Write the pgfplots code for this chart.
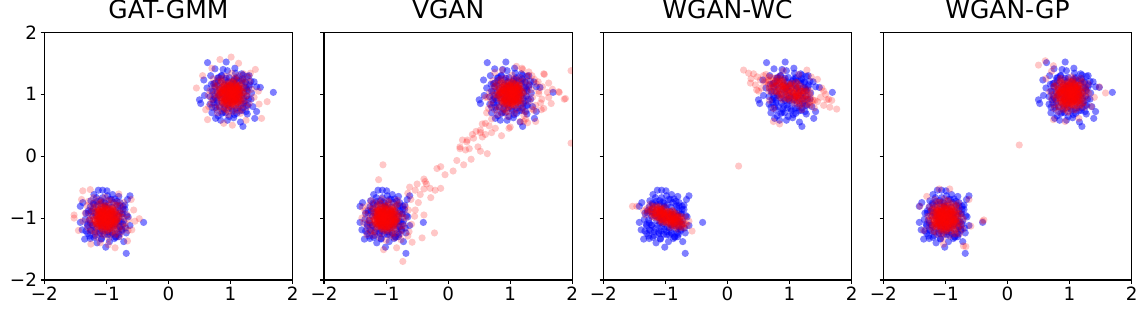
\documentclass[border=0pt]{standalone}
\usepackage{fontspec}
\setmainfont{DejaVu Sans}
\usepackage{pgfplots}
\pgfplotsset{compat=1.18}
\usepackage{pgfplotstable}

% real data (shared by all panels)
\pgfplotstableread{
x y
1.02 0.95
0.89 1.08
1.15 1.03
0.96 0.83
1.09 1.14
0.81 0.98
1.23 0.89
1.05 1.21
0.87 0.86
1.12 0.78
0.75 1.12
1.18 1.17
1.00 1.05
0.93 1.26
1.27 1.06
0.84 1.19
1.08 0.91
0.98 1.12
1.14 0.94
0.91 0.93
1.20 1.25
0.72 0.91
1.03 0.73
0.79 1.03
1.31 1.15
0.94 0.99
1.11 1.09
0.86 1.30
1.06 1.01
0.99 0.89
1.17 0.84
0.76 0.79
1.26 0.97
0.90 1.15
1.07 1.18
0.82 1.09
1.13 1.11
0.97 0.78
1.22 1.02
0.92 1.04
1.01 1.17
0.70 1.05
1.19 0.74
0.88 0.71
1.10 1.27
0.95 1.09
1.28 0.82
0.80 1.22
1.04 0.86
0.85 0.94
1.16 1.06
0.73 1.17
1.09 0.97
0.96 1.20
1.24 1.19
0.91 0.81
1.00 0.98
1.33 0.92
0.78 0.86
1.12 0.88
0.94 1.13
1.21 0.93
0.83 1.00
1.06 1.24
0.99 0.93
1.14 1.22
0.74 0.96
1.18 0.98
0.89 0.76
1.03 1.10
0.67 0.84
1.25 1.10
0.93 0.90
1.10 0.69
0.81 1.27
1.69 1.03
0.63 1.51
0.93 1.52
0.75 1.41
1.20 0.48
1.16 0.55
0.52 0.85
0.50 0.91
0.57 1.23
1.42 1.12
1.48 1.11
1.39 0.61
1.42 0.72
0.76 0.61
0.84 0.58
0.95 0.58
1.18 1.33
1.07 1.42
0.62 1.10
0.58 0.98
1.36 0.80
1.38 1.20
1.30 1.30
0.68 1.30
0.70 0.70
1.05 0.62
1.27 0.68
0.88 1.40
1.10 1.25
1.20 0.78
0.72 1.05
0.92 0.70
1.24 1.20
1.29 0.92
0.85 1.30
0.78 0.75
1.30 1.12
1.06 0.67
0.98 1.27
0.73 0.86
0.75 1.18
1.15 0.73
1.08 1.34
0.67 0.96
1.18 1.22
0.82 0.80
1.26 1.08
0.86 0.69
0.79 1.26
1.26 0.82
1.20 1.31
0.78 0.90
0.69 1.16
1.02 0.76
1.34 1.02
0.98 0.64
0.91 1.23
1.21 0.85
0.95 1.38
0.70 0.79
1.22 1.11
1.25 0.72
1.33 1.21
0.75 0.94
1.27 1.29
0.80 0.65
0.79 1.14
1.09 0.77
-1.05 -1.02
-0.92 -0.89
-0.97 -1.15
-1.17 -0.96
-0.86 -1.09
-1.02 -0.81
-1.11 -1.23
-0.79 -1.05
-1.14 -0.87
-1.22 -1.12
-0.88 -0.75
-0.83 -1.18
-0.95 -1.00
-0.74 -0.93
-0.94 -1.27
-0.81 -0.84
-1.09 -1.08
-0.88 -0.98
-1.06 -1.14
-1.07 -0.91
-0.75 -1.20
-1.09 -0.72
-1.27 -1.03
-0.97 -0.79
-0.85 -1.31
-1.01 -0.94
-0.91 -1.11
-0.70 -0.86
-0.99 -1.06
-1.11 -0.99
-1.16 -1.17
-1.21 -0.76
-1.03 -1.26
-0.85 -0.90
-0.82 -1.07
-0.91 -0.82
-0.89 -1.13
-1.22 -0.97
-0.98 -1.22
-0.96 -0.92
-0.83 -1.01
-0.95 -0.70
-1.26 -1.19
-1.29 -0.88
-0.73 -1.10
-0.91 -0.95
-1.18 -1.28
-0.78 -0.80
-1.14 -1.04
-1.06 -0.85
-0.94 -1.16
-0.83 -0.73
-1.03 -1.09
-0.80 -0.96
-0.81 -1.24
-1.19 -0.91
-1.02 -1.00
-1.08 -1.33
-1.14 -0.78
-1.12 -1.12
-0.87 -0.94
-1.07 -1.21
-1.00 -0.83
-0.76 -1.06
-1.07 -0.99
-0.78 -1.14
-1.04 -0.74
-1.02 -1.18
-1.24 -0.89
-0.90 -1.03
-1.16 -0.67
-0.90 -1.25
-1.10 -0.93
-1.31 -1.10
-0.73 -0.81
-0.40 -1.07
-0.68 -1.57
-1.01 -1.47
-0.62 -0.64
-0.66 -0.70
-1.42 -0.81
-1.39 -1.19
-1.42 -1.07
-1.35 -1.34
-1.26 -1.33
-1.13 -0.55
-1.06 -0.55
-0.99 -0.56
-0.80 -1.30
-0.87 -1.33
-0.68 -1.24
-1.33 -0.92
-1.30 -1.25
-0.65 -0.98
-0.62 -1.12
-1.20 -0.62
-0.90 -0.62
-0.72 -1.38
-1.15 -1.40
-1.38 -0.75
-1.10 -1.25
-1.20 -0.78
-0.72 -1.05
-0.92 -0.70
-1.24 -1.20
-1.29 -0.92
-0.85 -1.30
-0.78 -0.75
-1.30 -1.12
-1.06 -0.67
-0.98 -1.27
-0.73 -0.86
-0.75 -1.18
-1.15 -0.73
-1.08 -1.34
-0.67 -0.96
-1.18 -1.22
-0.82 -0.80
-1.26 -1.08
-0.86 -0.69
-0.79 -1.26
-1.26 -0.82
-1.20 -1.31
-0.78 -0.90
-0.69 -1.16
-1.02 -0.76
-1.34 -1.02
-0.98 -0.64
-0.91 -1.23
-1.21 -0.85
-0.95 -1.38
-0.70 -0.79
-1.22 -1.11
-1.25 -0.72
-1.33 -1.21
-0.75 -0.94
-1.27 -1.29
-0.80 -0.65
-0.79 -1.14
-1.09 -0.77
}\bluedata

% dense round cores of generated samples (GAT-GMM, VGAN, WGAN-GP)
\pgfplotstableread{
x y
1.03 1.01
0.95 1.07
1.10 0.96
0.92 0.91
1.06 1.12
0.87 1.02
1.15 1.08
1.01 0.86
0.90 1.14
1.12 0.87
0.98 0.97
1.08 1.04
0.84 0.95
1.04 1.18
0.93 1.00
1.18 0.98
0.97 1.10
1.09 0.91
0.88 0.85
1.00 1.06
1.14 1.15
0.82 1.09
1.05 0.93
0.94 0.83
1.11 1.01
0.99 1.15
1.07 0.82
0.86 1.11
1.02 0.99
0.91 1.05
1.16 0.90
0.96 0.89
1.10 1.10
0.81 0.99
1.06 0.97
0.89 1.18
1.13 1.05
0.98 0.80
1.20 1.03
0.94 1.03
1.04 1.08
0.85 0.90
1.09 1.16
0.92 1.12
1.17 0.94
1.00 0.92
0.88 1.07
1.07 0.87
0.96 1.02
1.12 1.12
0.83 1.04
1.03 0.84
0.93 0.94
1.14 0.99
0.99 1.11
1.05 1.02
0.90 0.88
1.08 1.09
0.87 0.97
1.02 1.20
1.01 0.98
1.06 1.04
0.97 0.92
0.93 1.06
1.10 0.95
1.02 1.10
1.06 0.88
0.89 0.99
1.11 1.08
0.90 0.90
0.98 1.02
1.03 0.94
0.96 1.13
1.14 0.97
1.00 1.06
0.98 0.86
1.08 1.02
0.93 0.93
0.88 1.10
1.05 1.00
1.12 0.89
1.07 1.14
0.94 0.96
0.86 1.05
1.01 0.91
1.12 1.01
0.86 0.94
1.09 1.11
0.99 0.98
1.04 1.07
0.92 0.87
0.91 1.03
1.08 0.92
0.99 1.15
0.98 0.95
1.14 1.09
1.04 0.90
0.84 1.02
1.02 0.84
1.02 1.05
1.01 1.03
1.07 0.95
0.96 1.10
0.91 0.92
1.12 1.06
1.02 0.87
1.08 1.15
0.86 1.01
1.14 0.90
0.87 1.12
0.97 0.98
1.04 1.08
0.95 0.84
1.18 1.04
1.00 0.93
0.98 1.18
1.10 0.97
0.91 1.09
0.85 0.88
1.06 1.00
1.15 1.14
1.09 0.82
0.93 1.05
0.83 0.94
1.01 1.11
1.15 0.99
0.82 1.07
1.11 0.86
0.99 1.02
1.05 0.91
0.90 1.16
0.89 0.96
0.99 0.81
0.97 1.06
1.18 0.89
1.05 1.13
0.80 0.98
1.03 1.20
1.03 0.94
1.08 1.04
0.90 0.85
1.16 1.09
1.12 0.92
0.94 1.17
0.92 1.00
1.07 0.88
0.87 1.07
1.02 0.96
1.12 1.12
1.04 0.83
0.84 1.03
0.94 0.93
0.99 1.14
1.11 0.99
1.02 1.05
0.88 0.90
1.09 1.08
0.97 0.87
1.20 1.02
1.04 1.01
0.93 1.10
1.14 0.94
0.89 0.87
1.08 1.17
0.82 1.03
1.21 1.11
1.01 0.80
0.86 1.20
1.17 0.82
0.97 0.96
1.11 1.06
0.78 0.93
1.06 1.25
0.90 1.00
1.25 0.97
0.96 1.14
1.13 0.87
0.83 0.79
1.00 1.08
1.20 1.21
0.75 1.13
1.07 0.90
0.92 0.76
1.15 1.01
0.99 1.21
1.10 0.75
0.80 1.15
1.03 0.99
0.87 1.07
1.22 0.86
0.94 0.85
1.14 1.14
0.73 0.99
1.08 0.96
0.85 1.25
1.18 1.07
0.97 0.72
1.28 1.04
0.92 1.04
-1.03 -0.99
-0.95 -0.93
-1.10 -1.04
-0.92 -1.09
-1.06 -0.88
-0.87 -0.98
-1.15 -0.92
-1.01 -1.14
-0.90 -0.86
-1.12 -1.13
-0.98 -1.03
-1.08 -0.96
-0.84 -1.05
-1.04 -0.82
-0.93 -1.00
-1.18 -1.02
-0.97 -0.90
-1.09 -1.09
-0.88 -1.15
-1.00 -0.94
-1.14 -0.85
-0.82 -0.91
-1.05 -1.07
-0.94 -1.17
-1.11 -0.99
-0.99 -0.85
-1.07 -1.18
-0.86 -0.89
-1.02 -1.01
-0.91 -0.95
-1.16 -1.10
-0.96 -1.11
-1.10 -0.90
-0.81 -1.01
-1.06 -1.03
-0.89 -0.82
-1.13 -0.95
-0.98 -1.20
-1.20 -0.97
-0.94 -0.97
-1.04 -0.92
-0.85 -1.10
-1.09 -0.84
-0.92 -0.88
-1.17 -1.06
-1.00 -1.08
-0.88 -0.93
-1.07 -1.13
-0.96 -0.98
-1.12 -0.88
-0.83 -0.96
-1.03 -1.16
-0.93 -1.06
-1.14 -1.01
-0.99 -0.89
-1.05 -0.98
-0.90 -1.12
-1.08 -0.91
-0.87 -1.03
-1.02 -0.80
-1.01 -0.98
-1.06 -1.04
-0.97 -0.92
-0.93 -1.06
-1.10 -0.95
-1.02 -1.10
-1.06 -0.88
-0.89 -0.99
-1.11 -1.08
-0.90 -0.90
-0.98 -1.02
-1.03 -0.94
-0.96 -1.13
-1.14 -0.97
-1.00 -1.06
-0.98 -0.86
-1.08 -1.02
-0.93 -0.93
-0.88 -1.10
-1.05 -1.00
-1.12 -0.89
-1.07 -1.14
-0.94 -0.96
-0.86 -1.05
-1.01 -0.91
-1.12 -1.01
-0.86 -0.94
-1.09 -1.11
-0.99 -0.98
-1.04 -1.07
-0.92 -0.87
-0.91 -1.03
-1.08 -0.92
-0.99 -1.15
-0.98 -0.95
-1.14 -1.09
-1.04 -0.90
-0.84 -1.02
-1.02 -0.84
-1.02 -1.05
-1.01 -1.03
-1.07 -0.95
-0.96 -1.10
-0.91 -0.92
-1.12 -1.06
-1.02 -0.87
-1.08 -1.15
-0.86 -1.01
-1.14 -0.90
-0.87 -1.12
-0.97 -0.98
-1.04 -1.08
-0.95 -0.84
-1.18 -1.04
-1.00 -0.93
-0.98 -1.18
-1.10 -0.97
-0.91 -1.09
-0.85 -0.88
-1.06 -1.00
-1.15 -1.14
-1.09 -0.82
-0.93 -1.05
-0.83 -0.94
-1.01 -1.11
-1.15 -0.99
-0.82 -1.07
-1.11 -0.86
-0.99 -1.02
-1.05 -0.91
-0.90 -1.16
-0.89 -0.96
-0.99 -0.81
-0.97 -1.06
-1.18 -0.89
-1.05 -1.13
-0.80 -0.98
-1.03 -1.20
-1.03 -0.94
-1.08 -1.04
-0.90 -0.85
-1.16 -1.09
-1.12 -0.92
-0.94 -1.17
-0.92 -1.00
-1.07 -0.88
-0.87 -1.07
-1.02 -0.96
-1.12 -1.12
-1.04 -0.83
-0.84 -1.03
-0.94 -0.93
-0.99 -1.14
-1.11 -0.99
-1.02 -1.05
-0.88 -0.90
-1.09 -1.08
-0.97 -0.87
-1.20 -1.02
-1.04 -1.01
-0.93 -1.10
-1.14 -0.94
-0.89 -0.87
-1.08 -1.17
-0.82 -1.03
-1.21 -1.11
-1.01 -0.80
-0.86 -1.20
-1.17 -0.82
-0.97 -0.96
-1.11 -1.06
-0.78 -0.93
-1.06 -1.25
-0.90 -1.00
-1.25 -0.97
-0.96 -1.14
-1.13 -0.87
-0.83 -0.79
-1.00 -1.08
-1.20 -1.21
-0.75 -1.13
-1.07 -0.90
-0.92 -0.76
-1.15 -1.01
-0.99 -1.21
-1.10 -0.75
-0.80 -1.15
-1.03 -0.99
-0.87 -1.07
-1.22 -0.86
-0.94 -0.85
-1.14 -1.14
-0.73 -0.99
-1.08 -0.96
-0.85 -1.25
-1.18 -1.07
-0.97 -0.72
-1.28 -1.04
-0.92 -1.04
}\redcore

% GAT-GMM generated, outer part
\pgfplotstableread{
x y
1.25 1.10
0.78 1.20
1.05 0.72
0.70 0.92
1.20 1.24
0.92 1.29
1.30 0.85
0.75 0.78
1.12 1.30
0.67 1.06
1.27 0.98
0.86 0.73
1.18 0.75
0.73 1.15
1.34 1.08
0.96 0.67
1.22 1.18
0.80 0.82
1.08 1.26
0.69 0.86
1.26 0.79
0.82 1.26
1.31 1.20
0.90 0.78
1.16 0.69
0.76 1.02
1.02 1.34
0.64 0.98
1.23 0.91
0.85 1.21
1.38 0.95
0.79 0.70
1.11 1.22
0.72 1.25
1.21 1.33
0.94 0.75
1.29 1.27
0.65 0.80
1.14 0.79
0.77 1.09
1.01 1.60
0.83 1.56
0.45 1.10
1.59 0.88
1.50 0.61
0.63 0.59
1.03 0.50
0.89 0.53
1.46 0.84
1.32 1.34
1.13 1.50
0.55 1.30
1.40 1.40
0.60 0.75
1.45 1.05
0.70 1.42
1.25 0.58
-1.25 -0.90
-0.78 -0.80
-1.05 -1.28
-0.70 -1.08
-1.20 -0.76
-0.92 -0.71
-1.30 -1.15
-0.75 -1.22
-1.12 -0.70
-0.67 -0.94
-1.27 -1.02
-0.86 -1.27
-1.18 -1.25
-0.73 -0.85
-1.34 -0.92
-0.96 -1.33
-1.22 -0.82
-0.80 -1.18
-1.08 -0.74
-0.69 -1.14
-1.26 -1.21
-0.82 -0.74
-1.31 -0.80
-0.90 -1.22
-1.16 -1.31
-0.76 -0.98
-1.02 -0.66
-0.64 -1.02
-1.23 -1.09
-0.85 -0.79
-1.38 -1.05
-0.79 -1.30
-1.11 -0.78
-0.72 -0.75
-1.21 -0.67
-0.94 -1.25
-1.29 -0.73
-0.65 -1.20
-1.14 -1.21
-0.77 -0.91
-1.52 -0.95
-1.52 -1.00
-1.38 -0.56
-1.26 -0.54
-0.47 -1.01
-0.54 -1.05
-1.25 -1.42
-0.86 -1.48
-0.97 -1.43
-0.66 -1.37
-0.59 -1.19
-0.56 -0.87
-0.80 -0.61
-1.45 -1.20
-1.40 -0.70
-0.60 -0.70
-1.10 -1.40
}\redgat

% VGAN generated, outer part and bridge
\pgfplotstableread{
x y
1.34 1.07
0.78 1.17
1.07 0.69
0.70 0.89
1.27 1.21
0.92 1.26
1.41 0.82
0.75 0.75
1.16 1.27
0.67 1.03
1.36 0.95
0.86 0.70
1.24 0.72
0.73 1.12
1.46 1.05
0.96 0.64
1.30 1.15
0.80 0.79
1.11 1.23
0.69 0.83
1.35 0.76
0.82 1.23
1.42 1.17
0.90 0.75
1.22 0.66
0.76 0.99
1.03 1.31
0.64 0.95
1.31 0.88
0.85 1.18
1.51 0.92
0.79 0.67
1.15 1.19
0.72 1.22
1.28 1.30
0.94 0.72
1.39 1.24
0.65 0.77
1.19 0.76
0.77 1.06
1.98 1.38
1.98 0.21
1.89 0.93
1.79 1.03
1.55 1.32
1.60 1.03
1.49 0.86
1.41 0.56
1.28 0.54
1.45 1.20
1.52 1.12
1.35 1.30
1.62 0.95
1.20 1.40
1.10 1.45
0.75 1.35
1.50 0.75
1.68 1.08
1.25 0.60
0.70 0.60
0.62 0.70
0.60 0.95
1.54 1.33
1.62 1.18
1.78 1.04
1.87 0.92
1.66 0.85
1.54 0.77
1.46 1.01
1.38 0.74
1.30 1.36
1.19 1.42
0.87 1.39
1.16 0.56
1.22 0.56
0.98 0.45
0.86 0.33
1.00 0.47
0.76 0.45
0.66 0.49
0.55 0.52
0.60 0.53
0.52 0.42
0.52 0.38
0.41 0.29
0.39 0.35
0.31 0.26
0.23 0.26
0.30 0.23
0.19 0.15
0.19 0.12
0.34 0.12
0.37 -0.05
0.25 -0.14
0.14 -0.07
0.52 0.08
0.63 0.04
0.55 0.31
0.45 0.40
0.60 0.35
0.28 0.10
0.70 0.38
0.48 0.15
0.08 -0.24
-0.05 -0.30
-0.12 -0.17
-0.18 -0.20
-0.12 -0.52
-0.21 -0.55
-0.29 -0.52
-0.39 -0.53
-0.37 -0.41
-0.50 -0.45
-0.53 -0.55
-0.28 -0.67
-0.39 -0.37
-0.35 -0.45
-0.45 -0.62
-0.62 -0.50
-0.65 -0.60
-0.60 -0.70
-0.48 -0.75
-0.53 -0.87
-0.39 -0.95
-0.22 -1.24
-0.42 -1.32
-0.58 -1.39
-0.73 -1.70
-0.83 -1.48
-1.04 -1.51
-1.05 -0.14
-1.12 -0.38
-0.71 -1.12
-1.25 -1.22
-0.96 -0.74
-1.33 -0.94
-0.77 -1.26
-1.11 -1.31
-0.64 -0.87
-1.28 -0.80
-0.87 -1.32
-1.36 -1.08
-0.68 -1.00
-1.17 -0.75
-0.80 -0.77
-1.30 -1.17
-0.59 -1.10
-1.07 -0.69
-0.74 -1.20
-1.23 -0.84
-0.93 -1.28
-1.34 -0.88
-0.69 -0.81
-1.21 -1.28
-0.63 -1.22
-1.13 -0.80
-0.82 -0.71
-1.27 -1.04
-1.00 -1.36
-1.39 -1.00
-0.73 -0.93
-1.18 -1.23
-0.54 -0.97
-1.24 -0.72
-0.89 -1.24
-1.31 -1.27
-0.76 -1.35
-1.09 -0.77
-0.65 -1.29
-1.38 -0.82
-0.85 -0.81
-1.26 -1.11
-1.10 -1.00
-1.15 -0.95
-1.05 -1.05
-1.12 -1.08
-1.08 -0.92
-1.18 -1.02
-1.02 -0.98
-1.13 -0.88
-1.20 -0.92
-1.06 -1.12
}\redvgan

% WGAN-WC generated (elongated clusters)
\pgfplotstableread{
x y
1.06 1.03
0.92 1.15
1.19 0.93
0.81 1.05
1.16 1.10
0.75 1.18
1.33 0.99
0.97 0.93
0.85 1.25
1.19 0.84
0.95 1.04
1.17 1.01
0.66 1.15
1.14 1.16
0.86 1.11
1.35 0.88
0.98 1.16
1.15 0.90
0.71 1.03
1.02 1.10
1.33 1.05
0.67 1.28
1.08 0.95
0.82 0.97
1.22 0.96
1.03 1.18
1.08 0.85
0.76 1.26
1.04 1.03
0.84 1.17
1.29 0.83
0.88 1.00
1.24 1.05
0.62 1.20
1.11 0.98
0.84 1.29
1.28 0.98
0.89 0.91
1.41 0.90
0.89 1.13
1.11 1.08
0.67 1.10
1.24 1.10
0.88 1.21
1.32 0.86
0.97 0.99
0.78 1.21
1.09 0.89
0.93 1.10
1.28 1.04
0.67 1.23
1.00 0.90
0.84 1.06
1.28 0.92
1.02 1.15
1.11 1.02
0.76 1.04
1.19 1.05
0.73 1.14
1.11 1.19
0.94 1.07
1.08 0.95
0.81 1.17
1.19 1.05
0.84 1.00
1.25 0.92
0.67 1.11
1.03 1.17
1.15 0.85
0.81 1.26
1.05 1.06
0.83 1.09
1.34 0.95
0.86 0.94
1.14 0.99
0.65 1.22
1.02 0.94
0.85 1.20
1.29 1.07
0.98 1.00
0.67 1.05
1.33 0.82
0.92 1.15
1.18 1.13
0.78 1.14
0.97 0.92
0.92 1.25
1.24 0.84
0.96 1.07
1.16 0.93
0.71 1.27
1.12 1.10
0.76 1.05
1.38 0.90
0.89 1.12
1.16 0.81
0.72 1.12
1.11 1.19
0.59 1.20
1.11 0.97
1.04 1.04
0.94 1.12
1.13 0.97
0.87 1.05
1.11 1.09
0.83 1.14
1.23 1.01
0.98 0.97
0.90 1.19
1.13 0.90
0.97 1.04
1.12 1.02
0.76 1.12
1.10 1.13
0.90 1.09
1.25 0.93
0.99 1.13
1.11 0.95
0.80 1.04
1.01 1.09
1.23 1.05
0.77 1.21
1.06 0.98
0.87 0.99
1.15 0.99
1.02 1.14
1.06 0.91
0.83 1.20
1.03 1.04
0.89 1.13
1.20 0.90
0.92 1.02
1.17 1.05
0.73 1.16
1.08 1.00
0.89 1.22
1.20 1.00
0.92 0.95
1.29 0.95
0.92 1.11
0.26 1.39
0.34 1.34
0.42 1.33
0.37 1.18
0.47 1.07
0.38 1.25
0.53 1.23
0.48 1.28
0.45 1.15
0.58 1.30
0.55 1.10
0.62 1.32
0.50 1.05
1.28 1.39
1.45 1.24
1.35 1.28
1.52 1.10
1.55 1.05
1.58 1.00
1.60 0.91
1.63 0.92
1.68 0.90
1.65 0.79
1.76 0.76
1.55 0.82
1.50 0.95
1.45 0.88
1.40 0.78
1.20 0.75
0.74 0.56
0.84 0.52
0.74 0.77
0.68 0.90
0.90 1.38
1.15 1.32
0.18 -0.16
-0.93 -0.99
-1.03 -0.91
-0.83 -1.07
-1.11 -0.98
-0.86 -0.94
-1.15 -0.89
-0.73 -1.02
-0.99 -1.07
-1.08 -0.84
-0.83 -1.13
-1.01 -0.99
-0.85 -1.01
-1.22 -0.91
-0.87 -0.90
-1.07 -0.94
-0.72 -1.10
-0.98 -0.90
-0.86 -1.09
-1.18 -0.99
-0.96 -0.94
-0.73 -0.98
-1.21 -0.81
-0.91 -1.05
-1.10 -1.04
-0.81 -1.04
-0.95 -0.89
-0.91 -1.12
-1.14 -0.83
-0.94 -0.99
-1.09 -0.89
-0.76 -1.14
-1.06 -1.02
-0.80 -0.98
-1.24 -0.87
-0.89 -1.03
-1.09 -0.81
-0.77 -1.03
-1.05 -1.08
-0.67 -1.09
-1.05 -0.92
-0.89 -0.96
-1.21 -0.94
-0.80 -0.94
-1.06 -0.86
-0.74 -1.12
-0.99 -1.02
-1.13 -0.86
-0.91 -1.10
-1.02 -0.94
-0.77 -0.99
-1.21 -0.85
-0.97 -1.09
-1.09 -0.97
-0.77 -1.07
-0.96 -0.91
-0.89 -1.00
-1.14 -0.99
-0.83 -0.98
-1.16 -0.92
-0.89 -0.88
-1.01 -0.97
-0.91 -1.05
-1.11 -0.89
-0.83 -0.98
-1.08 -1.02
-0.79 -1.07
-1.21 -0.94
-0.95 -0.89
-0.86 -1.12
-1.11 -0.83
-0.93 -0.97
-1.09 -0.95
-0.72 -1.05
-1.07 -1.06
-0.87 -1.02
-1.22 -0.86
-0.96 -1.06
-1.08 -0.87
-0.76 -0.97
-0.98 -1.02
-1.21 -0.98
-0.73 -1.15
-1.03 -0.91
-0.84 -0.92
-1.13 -0.92
-0.99 -1.07
-1.03 -0.84
-0.80 -1.13
-1.00 -0.97
-0.85 -1.07
-1.18 -0.82
-0.88 -0.94
-1.14 -0.98
-0.70 -1.09
-1.05 -0.93
-0.85 -1.15
-1.17 -0.93
-0.89 -0.88
-1.27 -0.87
-0.89 -1.04
-0.94 -0.99
-1.01 -0.93
-0.87 -1.04
-1.07 -0.98
-0.89 -0.95
-1.10 -0.92
-0.80 -1.01
-0.98 -1.04
-1.05 -0.88
-0.87 -1.09
-1.00 -0.99
-0.89 -1.00
-1.15 -0.93
-0.90 -0.92
-1.04 -0.95
-0.80 -1.06
-0.98 -0.92
-0.89 -1.06
-1.12 -0.99
-0.96 -0.95
-0.80 -0.98
-1.14 -0.86
-0.93 -1.03
-1.06 -1.02
-0.86 -1.02
-0.96 -0.92
-0.93 -1.08
-1.09 -0.88
-0.95 -0.99
-1.05 -0.92
-0.82 -1.09
-1.03 -1.01
-0.85 -0.98
-1.16 -0.90
-0.91 -1.02
-1.05 -0.86
-0.83 -1.02
-1.03 -1.05
-0.76 -1.06
-1.03 -0.94
-1.53 -0.81
-1.46 -0.81
-0.57 -1.21
-1.30 -0.85
-1.35 -0.88
-1.28 -0.90
-0.62 -1.05
-0.65 -1.12
-0.70 -1.16
-1.25 -0.78
-0.80 -1.18
-1.15 -0.80
-1.00 -0.82
-0.92 -1.15
-1.32 -0.95
-0.68 -0.98
}\redwc

% WGAN-GP generated, outer part
\pgfplotstableread{
x y
0.79 0.92
1.19 0.83
0.96 1.24
1.26 1.07
0.83 0.80
1.07 0.75
0.75 1.13
1.21 1.19
0.90 0.75
1.28 0.95
0.77 1.02
1.12 1.23
0.85 1.21
1.23 0.87
0.71 0.93
1.03 1.28
0.81 0.85
1.17 1.15
0.93 0.78
1.26 1.12
0.78 1.18
1.15 0.78
0.74 0.83
1.09 1.19
0.86 1.26
1.20 0.98
0.98 0.71
1.31 1.02
0.80 1.08
1.13 0.82
0.68 1.04
1.18 1.26
0.91 0.81
1.24 0.79
0.82 0.72
1.05 1.21
0.75 0.77
1.30 1.17
0.88 1.18
1.20 0.92
0.19 0.18
0.50 1.47
0.61 1.54
0.74 1.46
0.71 1.37
1.58 1.02
1.48 1.12
0.74 0.59
0.93 0.56
1.15 0.61
0.62 1.25
1.35 0.80
1.40 0.95
-0.92 -1.21
-0.83 -0.81
-1.24 -1.04
-1.07 -0.75
-0.80 -1.17
-0.75 -0.93
-1.13 -1.26
-1.19 -0.79
-0.75 -1.10
-0.95 -0.72
-1.02 -1.23
-1.23 -0.88
-1.21 -1.15
-0.87 -0.77
-0.93 -1.29
-1.28 -0.97
-0.85 -1.19
-1.15 -0.83
-0.78 -1.07
-1.12 -0.74
-1.18 -1.22
-0.78 -0.85
-0.83 -1.26
-1.19 -0.92
-1.26 -1.14
-0.98 -0.80
-0.71 -1.02
-1.02 -0.69
-1.08 -1.20
-0.82 -0.87
-1.04 -1.32
-1.26 -0.82
-0.81 -1.09
-0.79 -0.76
-0.72 -1.18
-1.21 -0.95
-0.77 -1.25
-1.17 -0.70
-1.18 -1.12
-0.92 -0.80
-0.38 -1.03
-0.40 -1.05
-0.59 -1.13
-0.67 -1.46
-0.71 -1.45
-1.03 -1.42
-1.10 -0.53
-0.93 -0.53
-1.41 -0.81
-1.30 -0.65
-0.62 -0.70
-1.35 -1.20
}\redgp

\pgfplotsset{
 panel/.style={
  scale only axis, width=248.3pt, height=247.7pt,
  anchor=south west,
  xmin=-2, xmax=2, ymin=-2, ymax=2,
  xtick={-2,-1,0,1,2}, ytick={-2,-1,0,1,2},
  xticklabels={−2,−1,0,1,2},
  tick align=outside, xtick pos=left, ytick pos=left,
  major tick length=3.8pt,
  tick style={black, line width=1.1pt},
  axis line style={black, line width=1.1pt},
  tick label style={font=\fontsize{18.3}{20}\selectfont},
  title style={font=\fontsize{25}{28}\selectfont, at={(0.5,1)}, anchor=base, yshift=7.3pt},
  clip marker paths=true,
 },
 bluepts/.style={only marks, mark=*, mark size=3.6pt, color=blue, mark options={draw=blue, draw opacity=0, fill=blue, fill opacity=0.5}},
 redpts/.style={only marks, mark=*, mark size=3.6pt, color=red, mark options={draw=red, draw opacity=0, fill=red, fill opacity=0.22}},
}

\begin{document}
\begin{tikzpicture}
\useasboundingbox (0pt,0pt) rectangle (1144pt,313pt);
\begin{axis}[panel, at={(44.3pt,33pt)}, title={GAT-GMM}, yticklabels={−2,−1,0,1,2}]
\addplot[bluepts] table {\bluedata};
\addplot[redpts] table {\redgat};
\addplot[redpts] table {\redcore};
\end{axis}
\begin{axis}[panel, at={(324pt,33pt)}, title={VGAN}, yticklabels={}]
\addplot[bluepts] table {\bluedata};
\addplot[redpts] table {\redvgan};
\addplot[redpts] table {\redcore};
\end{axis}
\begin{axis}[panel, at={(603.3pt,33pt)}, title={WGAN-WC}, yticklabels={}]
\addplot[bluepts] table {\bluedata};
\addplot[redpts] table {\redwc};
\end{axis}
\begin{axis}[panel, at={(883.3pt,33pt)}, title={WGAN-GP}, yticklabels={}]
\addplot[bluepts] table {\bluedata};
\addplot[redpts] table {\redgp};
\addplot[redpts] table {\redcore};
\end{axis}
\end{tikzpicture}
\end{document}
